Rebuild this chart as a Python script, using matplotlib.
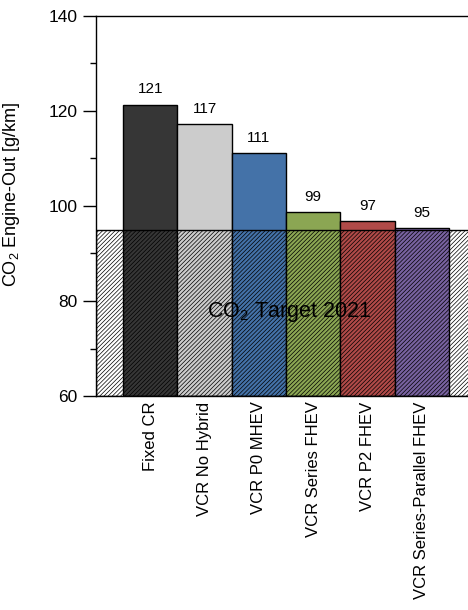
import numpy as np
import matplotlib
matplotlib.use('Agg')
import matplotlib.pyplot as plt
from matplotlib.patches import Rectangle
from matplotlib.ticker import MultipleLocator

plt.rcParams['font.family'] = ['Liberation Sans', 'DejaVu Sans']
plt.rcParams['mathtext.fontset'] = 'custom'
plt.rcParams['mathtext.rm'] = 'Liberation Sans'
plt.rcParams['mathtext.it'] = 'Liberation Sans:italic'
plt.rcParams['hatch.color'] = '#6e6e6e'
plt.rcParams['hatch.linewidth'] = 0.5

# engine-out CO2 per configuration
configs = ['Fixed CR', 'VCR No Hybrid', 'VCR P0 MHEV', 'VCR Series FHEV',
           'VCR P2 FHEV', 'VCR Series-Parallel FHEV']
co2 = [121.3, 117.2, 111.1, 98.7, 96.8, 95.4]
colors = ['#363636', '#cccccc', '#4472a8', '#8ba653', '#b04a48', '#7862a0']
target = 95
target_label = 'CO$_2$ Target 2021'

fig = plt.figure(figsize=(4.68, 6.10), dpi=100)
ax = fig.add_axes([96/468, 214/610, 380/468, 380/610])

x = np.arange(len(configs))
bars = ax.bar(x, [v - 60 for v in co2], bottom=60, width=1.0, color=colors,
              edgecolor='black', linewidth=1.0, zorder=2)
for xi, v in zip(x, co2):
    ax.annotate(f'{v:.0f}', (xi, v), xytext=(0, 6), textcoords='offset points',
                ha='center', va='bottom', fontsize=11)

# hatched band below the target
ax.add_patch(Rectangle((-1, 60), 7, target - 60, facecolor='none',
                       edgecolor='black', linewidth=1.0, hatch='////////', zorder=3))
ax.text(2.55, 77.7, target_label, ha='center', va='center', fontsize=15.5, zorder=4)

ax.set_xlim(-1, 6)
ax.set_ylim(60, 140)
ax.set_xticks(x)
ax.set_xticklabels(configs, rotation=90, va='top', ha='center', fontsize=12)
ax.tick_params(axis='x', length=0, pad=4)
ax.yaxis.set_major_locator(MultipleLocator(20))
ax.yaxis.set_minor_locator(MultipleLocator(10))
ax.tick_params(axis='y', which='major', direction='out', length=9.5, width=1, labelsize=12.5, pad=4)
ax.tick_params(axis='y', which='minor', direction='out', length=4.5, width=1)
ax.set_ylabel('CO$_2$ Engine-Out [g/km]', fontsize=13)
ax.yaxis.set_label_coords(-0.196, 0.53)
for s in ax.spines.values():
    s.set_linewidth(1.0)

fig.savefig('out.png', dpi=100)
